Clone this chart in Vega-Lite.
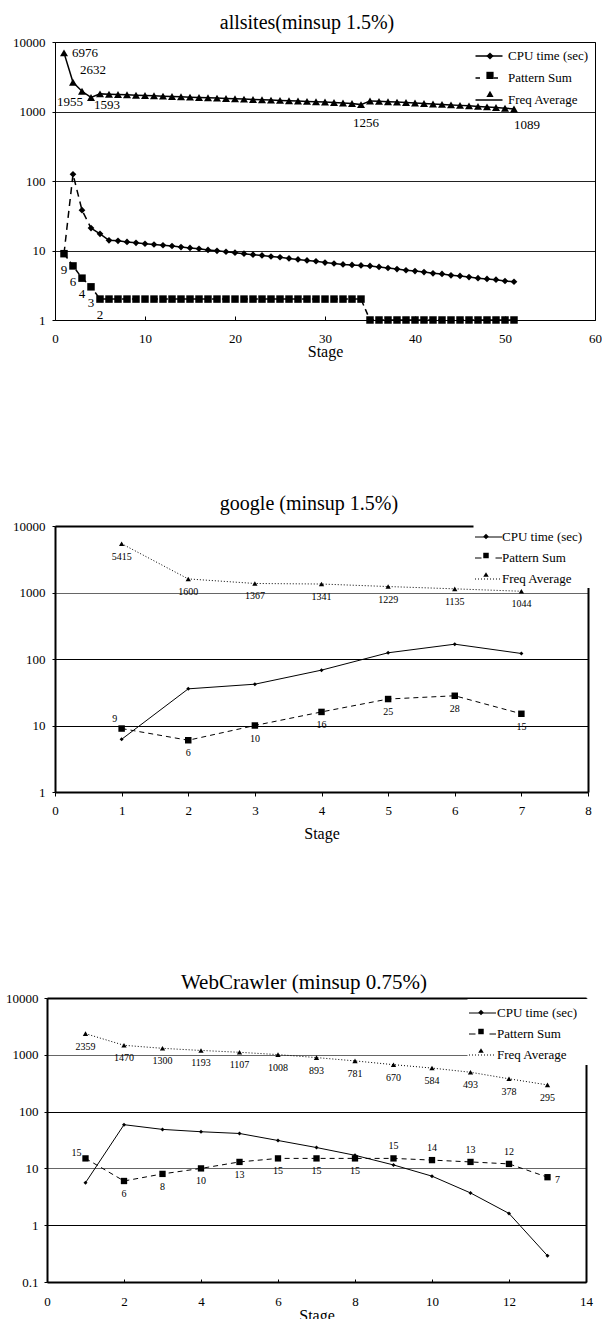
{
  "$schema": "https://vega.github.io/schema/vega-lite/v6.json",
  "autosize": {"type": "pad"},
  "padding": {"left": 5, "top": 13, "right": 0, "bottom": 0},
  "background": "white",
  "config": {
    "font": "Liberation Serif",
    "view": {"stroke": null},
    "axis": {"labelFont": "Liberation Serif", "titleFont": "Liberation Serif", "labelColor": "black", "titleColor": "black", "tickColor": "black", "domainColor": "black"},
    "legend": {"labelFont": "Liberation Serif", "labelColor": "black"},
    "title": {"font": "Liberation Serif", "fontWeight": "normal", "color": "black", "anchor": "middle", "frame": "group", "baseline": "alphabetic"},
    "text": {"font": "Liberation Serif", "color": "black"}
  },
  "datasets": {
    "a": [
      {"s":1,"cpu":9,"pat":9,"freq":6976},
      {"s":2,"cpu":125,"pat":6,"freq":2632},
      {"s":3,"cpu":38,"pat":4,"freq":1955},
      {"s":4,"cpu":21,"pat":3,"freq":1593},
      {"s":5,"cpu":17.4,"pat":2,"freq":1793},
      {"s":6,"cpu":14,"pat":2,"freq":1775},
      {"s":7,"cpu":13.8,"pat":2,"freq":1756},
      {"s":8,"cpu":13.3,"pat":2,"freq":1737},
      {"s":9,"cpu":12.9,"pat":2,"freq":1718},
      {"s":10,"cpu":12.5,"pat":2,"freq":1700},
      {"s":11,"cpu":12.2,"pat":2,"freq":1681},
      {"s":12,"cpu":11.9,"pat":2,"freq":1663},
      {"s":13,"cpu":11.6,"pat":2,"freq":1645},
      {"s":14,"cpu":11.2,"pat":2,"freq":1627},
      {"s":15,"cpu":10.9,"pat":2,"freq":1610},
      {"s":16,"cpu":10.6,"pat":2,"freq":1592},
      {"s":17,"cpu":10.2,"pat":2,"freq":1575},
      {"s":18,"cpu":9.9,"pat":2,"freq":1558},
      {"s":19,"cpu":9.6,"pat":2,"freq":1541},
      {"s":20,"cpu":9.3,"pat":2,"freq":1524},
      {"s":21,"cpu":9.0,"pat":2,"freq":1508},
      {"s":22,"cpu":8.7,"pat":2,"freq":1491},
      {"s":23,"cpu":8.5,"pat":2,"freq":1475},
      {"s":24,"cpu":8.2,"pat":2,"freq":1459},
      {"s":25,"cpu":8.0,"pat":2,"freq":1444},
      {"s":26,"cpu":7.7,"pat":2,"freq":1428},
      {"s":27,"cpu":7.45,"pat":2,"freq":1413},
      {"s":28,"cpu":7.2,"pat":2,"freq":1397},
      {"s":29,"cpu":7.0,"pat":2,"freq":1382},
      {"s":30,"cpu":6.7,"pat":2,"freq":1367},
      {"s":31,"cpu":6.5,"pat":2,"freq":1350},
      {"s":32,"cpu":6.3,"pat":2,"freq":1328},
      {"s":33,"cpu":6.2,"pat":2,"freq":1300},
      {"s":34,"cpu":6.1,"pat":2,"freq":1256},
      {"s":35,"cpu":6.0,"pat":1,"freq":1420},
      {"s":36,"cpu":5.8,"pat":1,"freq":1400},
      {"s":37,"cpu":5.6,"pat":1,"freq":1385},
      {"s":38,"cpu":5.4,"pat":1,"freq":1365},
      {"s":39,"cpu":5.2,"pat":1,"freq":1345},
      {"s":40,"cpu":5.06,"pat":1,"freq":1325},
      {"s":41,"cpu":4.9,"pat":1,"freq":1305},
      {"s":42,"cpu":4.7,"pat":1,"freq":1285},
      {"s":43,"cpu":4.6,"pat":1,"freq":1265},
      {"s":44,"cpu":4.4,"pat":1,"freq":1245},
      {"s":45,"cpu":4.3,"pat":1,"freq":1225},
      {"s":46,"cpu":4.15,"pat":1,"freq":1205},
      {"s":47,"cpu":4.0,"pat":1,"freq":1185},
      {"s":48,"cpu":3.9,"pat":1,"freq":1165},
      {"s":49,"cpu":3.8,"pat":1,"freq":1140},
      {"s":50,"cpu":3.64,"pat":1,"freq":1115},
      {"s":51,"cpu":3.55,"pat":1,"freq":1089}
    ],
    "g": [
      {"s":1,"cpu":6.2,"pat":9,"freq":5415},
      {"s":2,"cpu":35.6,"pat":6,"freq":1600},
      {"s":3,"cpu":41.8,"pat":10,"freq":1367},
      {"s":4,"cpu":68,"pat":16,"freq":1341},
      {"s":5,"cpu":124,"pat":25,"freq":1229},
      {"s":6,"cpu":167,"pat":28,"freq":1135},
      {"s":7,"cpu":121,"pat":15,"freq":1044}
    ],
    "w": [
      {"s":1,"cpu":5.6,"pat":15,"freq":2359},
      {"s":2,"cpu":58.8,"pat":6,"freq":1470},
      {"s":3,"cpu":48.6,"pat":8,"freq":1300},
      {"s":4,"cpu":44.2,"pat":10,"freq":1193},
      {"s":5,"cpu":41.2,"pat":13,"freq":1107},
      {"s":6,"cpu":31,"pat":15,"freq":1008},
      {"s":7,"cpu":23.3,"pat":15,"freq":893},
      {"s":8,"cpu":17,"pat":15,"freq":781},
      {"s":9,"cpu":11.5,"pat":15,"freq":670},
      {"s":10,"cpu":7.3,"pat":14,"freq":584},
      {"s":11,"cpu":3.7,"pat":13,"freq":493},
      {"s":12,"cpu":1.61,"pat":12,"freq":378},
      {"s":13,"cpu":0.29,"pat":7,"freq":295}
    ]
  },
  "bounds": "flush",
  "spacing": 206,
  "resolve": {"scale": {"x": "independent", "y": "independent", "shape": "independent", "strokeDash": "independent"}, "legend": {"shape": "independent", "strokeDash": "independent"}},
  "vconcat": [
    {
      "width": 548,
      "height": 278,
      "data": {"name": "a"},
      "title": {"text": "allsites(minsup 1.5%)", "font": "Liberation Serif", "fontWeight": "normal", "fontSize": 20, "offset": 3, "dx": -14},
      "resolve": {"axis": {"x": "independent", "y": "independent"}},
      "layer": [
        {
          "mark": {"type": "line", "color": "black", "strokeWidth": 1.5},
          "encoding": {
            "x": {"field": "s", "type": "quantitative", "scale": {"domain": [0, 60], "range": [8, 548], "nice": false, "zero": false},
                  "axis": {"orient": "bottom", "values": [0,10,20,30,40,50,60], "tickSize": -4, "labelPadding": 16, "labelFont": "Liberation Serif", "labelFontSize": 13, "labelFlush": false, "labelOverlap": false, "domainWidth": 1, "grid": false, "title": "Stage", "titleFont": "Liberation Serif", "titleFontSize": 16, "titleFontWeight": "normal", "titleY": 31, "titleBaseline": "middle"}},
            "y": {"field": "freq", "type": "quantitative", "scale": {"type": "log", "domain": [1, 10000], "nice": false},
                  "axis": {"orient": "left", "values": [1,10,100,1000,10000], "labelExpr": "'' + datum.value", "offset": -8, "tickSize": 3, "labelPadding": 7, "labelFont": "Liberation Serif", "labelFontSize": 13, "labelOverlap": false, "domainWidth": 1, "grid": true, "gridColor": "#222", "gridWidth": 1, "title": null}}
          }
        },
        {
          "transform": [{"filter": "datum.s <= 4"}],
          "mark": {"type": "line", "color": "black", "strokeWidth": 1.5, "strokeDash": [7, 5]},
          "encoding": {
            "x": {"field": "s", "type": "quantitative", "scale": {"domain": [0, 60], "range": [8, 548], "nice": false, "zero": false},
                  "axis": {"orient": "top", "labels": false, "ticks": false, "grid": false, "title": null, "domainWidth": 1}},
            "y": {"field": "cpu", "type": "quantitative", "scale": {"type": "log", "domain": [1, 10000], "nice": false},
                  "axis": {"orient": "right", "labels": false, "ticks": false, "grid": false, "title": null, "domainWidth": 1}}
          }
        },
        {
          "transform": [{"filter": "datum.s >= 4"}],
          "mark": {"type": "line", "color": "black", "strokeWidth": 1.5},
          "encoding": {"x": {"field": "s", "type": "quantitative", "axis": null}, "y": {"field": "cpu", "type": "quantitative", "axis": null}}
        },
        {
          "mark": {"type": "line", "color": "black", "strokeWidth": 1.5, "strokeDash": [6, 4]},
          "encoding": {"x": {"field": "s", "type": "quantitative", "axis": null}, "y": {"field": "pat", "type": "quantitative", "axis": null}}
        },
        {
          "transform": [{"filter": "datum.s >= 2"}],
          "mark": {"type": "point", "shape": "diamond", "filled": true, "size": 45, "color": "black", "opacity": 1},
          "encoding": {"x": {"field": "s", "type": "quantitative", "axis": null}, "y": {"field": "cpu", "type": "quantitative", "axis": null}}
        },
        {
          "mark": {"type": "point", "shape": "square", "filled": true, "size": 56, "color": "black", "opacity": 1},
          "encoding": {"x": {"field": "s", "type": "quantitative", "axis": null}, "y": {"field": "pat", "type": "quantitative", "axis": null}}
        },
        {
          "mark": {"type": "point", "shape": "triangle-up", "filled": true, "size": 64, "color": "black", "opacity": 1},
          "encoding": {"x": {"field": "s", "type": "quantitative", "axis": null}, "y": {"field": "freq", "type": "quantitative", "axis": null}}
        },
        {
          "transform": [{"filter": "datum.s == 1"}],
          "mark": {"type": "text", "font": "Liberation Serif", "fontSize": 13, "align": "left", "baseline": "middle", "dx": 8, "dy": 0},
          "encoding": {"x": {"field": "s", "type": "quantitative", "axis": null}, "y": {"field": "freq", "type": "quantitative", "axis": null}, "text": {"field": "freq"}}
        },
        {
          "transform": [{"filter": "datum.s == 2"}],
          "mark": {"type": "text", "font": "Liberation Serif", "fontSize": 13, "align": "left", "baseline": "middle", "dx": 7, "dy": -12},
          "encoding": {"x": {"field": "s", "type": "quantitative", "axis": null}, "y": {"field": "freq", "type": "quantitative", "axis": null}, "text": {"field": "freq"}}
        },
        {
          "transform": [{"filter": "datum.s == 3"}],
          "mark": {"type": "text", "font": "Liberation Serif", "fontSize": 13, "align": "center", "baseline": "middle", "dx": -12, "dy": 11},
          "encoding": {"x": {"field": "s", "type": "quantitative", "axis": null}, "y": {"field": "freq", "type": "quantitative", "axis": null}, "text": {"field": "freq"}}
        },
        {
          "transform": [{"filter": "datum.s == 4"}],
          "mark": {"type": "text", "font": "Liberation Serif", "fontSize": 13, "align": "left", "baseline": "middle", "dx": 3, "dy": 8},
          "encoding": {"x": {"field": "s", "type": "quantitative", "axis": null}, "y": {"field": "freq", "type": "quantitative", "axis": null}, "text": {"field": "freq"}}
        },
        {
          "transform": [{"filter": "datum.s == 34"}],
          "mark": {"type": "text", "font": "Liberation Serif", "fontSize": 13, "align": "center", "baseline": "middle", "dx": 5, "dy": 18},
          "encoding": {"x": {"field": "s", "type": "quantitative", "axis": null}, "y": {"field": "freq", "type": "quantitative", "axis": null}, "text": {"field": "freq"}}
        },
        {
          "transform": [{"filter": "datum.s == 51"}],
          "mark": {"type": "text", "font": "Liberation Serif", "fontSize": 13, "align": "center", "baseline": "middle", "dx": 13, "dy": 16},
          "encoding": {"x": {"field": "s", "type": "quantitative", "axis": null}, "y": {"field": "freq", "type": "quantitative", "axis": null}, "text": {"field": "freq"}}
        },
        {
          "transform": [{"filter": "datum.s <= 5"}],
          "mark": {"type": "text", "font": "Liberation Serif", "fontSize": 13, "align": "center", "baseline": "middle", "dx": 0, "dy": 16},
          "encoding": {"x": {"field": "s", "type": "quantitative", "axis": null}, "y": {"field": "pat", "type": "quantitative", "axis": null}, "text": {"field": "pat"}}
        },
        {
          "transform": [{"fold": ["cpu", "pat", "freq"], "as": ["series", "v"]}, {"filter": "datum.s < 0"}],
          "mark": {"type": "point", "filled": true, "color": "black", "opacity": 1},
          "encoding": {
            "x": {"field": "s", "type": "quantitative", "axis": null},
            "y": {"field": "v", "type": "quantitative", "axis": null},
            "shape": {"field": "series", "type": "nominal",
              "scale": {"domain": ["cpu", "pat", "freq"], "range": ["diamond", "square", "triangle-up"]},
              "legend": {"title": null, "orient": "none", "legendX": 436.5, "legendY": 7.5, "padding": 0, "zindex": 1, "symbolSize": 52, "symbolFillColor": "black", "symbolOpacity": 1, "labelFont": "Liberation Serif", "labelFontSize": 13, "labelOffset": 10.5, "rowPadding": 4.4,
                "labelExpr": "''"}}
          }
        },
        {
          "transform": [{"fold": ["cpu", "pat", "freq"], "as": ["line", "v2"]}, {"filter": "datum.s < 0"}],
          "mark": {"type": "line", "color": "black", "strokeWidth": 1.5},
          "encoding": {
            "x": {"field": "s", "type": "quantitative", "axis": null},
            "y": {"field": "v2", "type": "quantitative", "axis": null},
            "strokeDash": {"field": "line", "type": "nominal",
              "scale": {"domain": ["CPU time (sec)", "Pattern Sum", "Freq Average"], "range": [[1, 0], [4.5, 13.5], [1, 0]]},
              "legend": {"title": null, "orient": "none", "legendX": 427.5, "legendY": -0.5, "padding": 0, "zindex": 2, "symbolType": "stroke", "symbolSize": 729, "symbolStrokeWidth": 1.5, "symbolStrokeColor": "black", "labelFont": "Liberation Serif", "labelFontSize": 13, "labelOffset": 4.5, "rowPadding": -13.5}}
          }
        }
      ]
    },
    {
      "width": 541,
      "height": 266,
      "data": {"name": "g"},
      "title": {"text": "google (minsup 1.5%)", "font": "Liberation Serif", "fontWeight": "normal", "fontSize": 20, "offset": 6, "dx": -8.5},
      "resolve": {"axis": {"x": "independent", "y": "independent"}},
      "layer": [
        {
          "mark": {"type": "line", "color": "black", "strokeWidth": 1, "strokeDash": [1, 2]},
          "encoding": {
            "x": {"field": "s", "type": "quantitative", "scale": {"domain": [0, 8], "range": [8, 541], "nice": false, "zero": false},
                  "axis": {"orient": "bottom", "values": [0,1,2,3,4,5,6,7,8], "tickSize": 4, "labelPadding": 8, "labelFont": "Liberation Serif", "labelFontSize": 13, "labelFlush": false, "labelOverlap": false, "domainWidth": 2, "grid": false, "title": "Stage", "titleFont": "Liberation Serif", "titleFontSize": 16, "titleFontWeight": "normal", "titleY": 41, "titleBaseline": "middle"}},
            "y": {"field": "freq", "type": "quantitative", "scale": {"type": "log", "domain": [1, 10000], "nice": false},
                  "axis": {"orient": "left", "values": [1,10,100,1000,10000], "labelExpr": "'' + datum.value", "offset": -8, "tickSize": 3, "labelPadding": 7, "labelFont": "Liberation Serif", "labelFontSize": 13, "labelOverlap": false, "domainWidth": 2, "grid": true, "gridColor": {"condition": {"test": "datum.value == 1000", "value": "#666"}, "value": "#000"}, "gridWidth": 1, "title": null}}
          }
        },
        {
          "mark": {"type": "line", "color": "black", "strokeWidth": 1},
          "encoding": {
            "x": {"field": "s", "type": "quantitative", "scale": {"domain": [0, 8], "range": [8, 541], "nice": false, "zero": false},
                  "axis": {"orient": "top", "labels": false, "ticks": false, "grid": false, "title": null, "domainWidth": 2}},
            "y": {"field": "cpu", "type": "quantitative", "scale": {"type": "log", "domain": [1, 10000], "nice": false},
                  "axis": {"orient": "right", "labels": false, "ticks": false, "grid": false, "title": null, "domainWidth": 2}}
          }
        },
        {
          "mark": {"type": "line", "color": "black", "strokeWidth": 1, "strokeDash": [5, 4]},
          "encoding": {"x": {"field": "s", "type": "quantitative", "axis": null}, "y": {"field": "pat", "type": "quantitative", "axis": null}}
        },
        {
          "mark": {"type": "point", "shape": "diamond", "filled": true, "size": 16, "color": "black", "opacity": 1},
          "encoding": {"x": {"field": "s", "type": "quantitative", "axis": null}, "y": {"field": "cpu", "type": "quantitative", "axis": null}}
        },
        {
          "mark": {"type": "point", "shape": "square", "filled": true, "size": 42, "color": "black", "opacity": 1},
          "encoding": {"x": {"field": "s", "type": "quantitative", "axis": null}, "y": {"field": "pat", "type": "quantitative", "axis": null}}
        },
        {
          "mark": {"type": "point", "shape": "triangle-up", "filled": true, "size": 28, "color": "black", "opacity": 1},
          "encoding": {"x": {"field": "s", "type": "quantitative", "axis": null}, "y": {"field": "freq", "type": "quantitative", "axis": null}}
        },
        {
          "mark": {"type": "text", "font": "Liberation Serif", "fontSize": 10, "align": "center", "baseline": "middle", "dy": 13},
          "encoding": {"x": {"field": "s", "type": "quantitative", "axis": null}, "y": {"field": "freq", "type": "quantitative", "axis": null}, "text": {"field": "freq"}}
        },
        {
          "transform": [{"filter": "datum.s == 1"}],
          "mark": {"type": "text", "font": "Liberation Serif", "fontSize": 10, "align": "center", "baseline": "middle", "dx": -7, "dy": -10},
          "encoding": {"x": {"field": "s", "type": "quantitative", "axis": null}, "y": {"field": "pat", "type": "quantitative", "axis": null}, "text": {"field": "pat"}}
        },
        {
          "transform": [{"filter": "datum.s >= 2"}],
          "mark": {"type": "text", "font": "Liberation Serif", "fontSize": 10, "align": "center", "baseline": "middle", "dy": 13},
          "encoding": {"x": {"field": "s", "type": "quantitative", "axis": null}, "y": {"field": "pat", "type": "quantitative", "axis": null}, "text": {"field": "pat"}}
        },
        {
          "transform": [{"fold": ["cpu", "pat", "freq"], "as": ["series", "v"]}, {"filter": "datum.s < 0"}],
          "mark": {"type": "point", "filled": true, "color": "black", "opacity": 1},
          "encoding": {
            "x": {"field": "s", "type": "quantitative", "axis": null},
            "y": {"field": "v", "type": "quantitative", "axis": null},
            "shape": {"field": "series", "type": "nominal",
              "scale": {"domain": ["cpu", "pat", "freq"], "range": ["diamond", "square", "triangle-up"]},
              "legend": {"title": null, "orient": "none", "legendX": 426.5, "legendY": -2, "padding": 6, "fillColor": "white", "zindex": 1, "symbolSize": 30, "symbolFillColor": "black", "symbolOpacity": 1, "labelFont": "Liberation Serif", "labelFontSize": 13, "labelOffset": 96, "rowPadding": 5,
                "labelExpr": "''"}}
          }
        },
        {
          "transform": [{"fold": ["cpu", "pat", "freq"], "as": ["line", "v2"]}, {"filter": "datum.s < 0"}],
          "mark": {"type": "line", "color": "black", "strokeWidth": 1},
          "encoding": {
            "x": {"field": "s", "type": "quantitative", "axis": null},
            "y": {"field": "v2", "type": "quantitative", "axis": null},
            "strokeDash": {"field": "line", "type": "nominal",
              "scale": {"domain": ["CPU time (sec)", "Pattern Sum", "Freq Average"], "range": [[1, 0], [6.5, 14], [1, 2]]},
              "legend": {"title": null, "orient": "none", "legendX": 427.5, "legendY": -3, "padding": 0, "zindex": 2, "symbolType": "stroke", "symbolSize": 729, "symbolStrokeWidth": 1, "symbolStrokeColor": "black", "labelFont": "Liberation Serif", "labelFontSize": 13, "labelOffset": -0.5, "rowPadding": -11}}
          }
        }
      ]
    },
    {
      "width": 539,
      "height": 284,
      "data": {"name": "w"},
      "title": {"text": "WebCrawler (minsup 0.75%)", "font": "Liberation Serif", "fontWeight": "normal", "fontSize": 21, "offset": -1, "dx": -12.5},
      "resolve": {"axis": {"x": "independent", "y": "independent"}},
      "layer": [
        {
          "mark": {"type": "line", "color": "black", "strokeWidth": 1, "strokeDash": [1, 2]},
          "encoding": {
            "x": {"field": "s", "type": "quantitative", "scale": {"domain": [0, 14], "nice": false, "zero": false},
                  "axis": {"orient": "bottom", "values": [0,2,4,6,8,10,12,14], "tickSize": -3, "labelPadding": 16, "labelFont": "Liberation Serif", "labelFontSize": 13, "labelFlush": false, "labelOverlap": false, "domainWidth": 2, "grid": false, "title": "Stage", "titleFont": "Liberation Serif", "titleFontSize": 16, "titleFontWeight": "normal", "titleY": 33, "titleBaseline": "middle"}},
            "y": {"field": "freq", "type": "quantitative", "scale": {"type": "log", "domain": [0.1, 10000], "nice": false},
                  "axis": {"orient": "left", "values": [0.1,1,10,100,1000,10000], "labelExpr": "'' + datum.value", "tickSize": 3, "labelPadding": 6, "labelFont": "Liberation Serif", "labelFontSize": 13, "labelOverlap": false, "domainWidth": 2, "grid": true, "gridColor": {"condition": {"test": "datum.value == 1000 || datum.value == 10", "value": "#666"}, "value": "#000"}, "gridWidth": 1, "title": null}}
          }
        },
        {
          "mark": {"type": "line", "color": "black", "strokeWidth": 1},
          "encoding": {
            "x": {"field": "s", "type": "quantitative", "scale": {"domain": [0, 14], "nice": false, "zero": false},
                  "axis": {"orient": "top", "labels": false, "ticks": false, "grid": false, "title": null, "domainWidth": 2}},
            "y": {"field": "cpu", "type": "quantitative", "scale": {"type": "log", "domain": [0.1, 10000], "nice": false},
                  "axis": {"orient": "right", "labels": false, "ticks": false, "grid": false, "title": null, "domainWidth": 2}}
          }
        },
        {
          "mark": {"type": "line", "color": "black", "strokeWidth": 1, "strokeDash": [5, 4]},
          "encoding": {"x": {"field": "s", "type": "quantitative", "axis": null}, "y": {"field": "pat", "type": "quantitative", "axis": null}}
        },
        {
          "mark": {"type": "point", "shape": "diamond", "filled": true, "size": 16, "color": "black", "opacity": 1},
          "encoding": {"x": {"field": "s", "type": "quantitative", "axis": null}, "y": {"field": "cpu", "type": "quantitative", "axis": null}}
        },
        {
          "mark": {"type": "point", "shape": "square", "filled": true, "size": 40, "color": "black", "opacity": 1},
          "encoding": {"x": {"field": "s", "type": "quantitative", "axis": null}, "y": {"field": "pat", "type": "quantitative", "axis": null}}
        },
        {
          "mark": {"type": "point", "shape": "triangle-up", "filled": true, "size": 28, "color": "black", "opacity": 1},
          "encoding": {"x": {"field": "s", "type": "quantitative", "axis": null}, "y": {"field": "freq", "type": "quantitative", "axis": null}}
        },
        {
          "mark": {"type": "text", "font": "Liberation Serif", "fontSize": 10, "align": "center", "baseline": "middle", "dy": 13},
          "encoding": {"x": {"field": "s", "type": "quantitative", "axis": null}, "y": {"field": "freq", "type": "quantitative", "axis": null}, "text": {"field": "freq"}}
        },
        {
          "transform": [{"filter": "datum.s == 1"}],
          "mark": {"type": "text", "font": "Liberation Serif", "fontSize": 10, "align": "center", "baseline": "middle", "dx": -9, "dy": -5},
          "encoding": {"x": {"field": "s", "type": "quantitative", "axis": null}, "y": {"field": "pat", "type": "quantitative", "axis": null}, "text": {"field": "pat"}}
        },
        {
          "transform": [{"filter": "datum.s >= 2 && datum.s <= 8"}],
          "mark": {"type": "text", "font": "Liberation Serif", "fontSize": 10, "align": "center", "baseline": "middle", "dy": 13},
          "encoding": {"x": {"field": "s", "type": "quantitative", "axis": null}, "y": {"field": "pat", "type": "quantitative", "axis": null}, "text": {"field": "pat"}}
        },
        {
          "transform": [{"filter": "datum.s >= 9 && datum.s <= 12"}],
          "mark": {"type": "text", "font": "Liberation Serif", "fontSize": 10, "align": "center", "baseline": "middle", "dy": -12},
          "encoding": {"x": {"field": "s", "type": "quantitative", "axis": null}, "y": {"field": "pat", "type": "quantitative", "axis": null}, "text": {"field": "pat"}}
        },
        {
          "transform": [{"filter": "datum.s == 13"}],
          "mark": {"type": "text", "font": "Liberation Serif", "fontSize": 10, "align": "center", "baseline": "middle", "dx": 10, "dy": 3},
          "encoding": {"x": {"field": "s", "type": "quantitative", "axis": null}, "y": {"field": "pat", "type": "quantitative", "axis": null}, "text": {"field": "pat"}}
        },
        {
          "transform": [{"fold": ["cpu", "pat", "freq"], "as": ["series", "v"]}, {"filter": "datum.s < 0"}],
          "mark": {"type": "point", "filled": true, "color": "black", "opacity": 1},
          "encoding": {
            "x": {"field": "s", "type": "quantitative", "axis": null},
            "y": {"field": "v", "type": "quantitative", "axis": null},
            "shape": {"field": "series", "type": "nominal",
              "scale": {"domain": ["cpu", "pat", "freq"], "range": ["diamond", "square", "triangle-up"]},
              "legend": {"title": null, "orient": "none", "legendX": 420.5, "legendY": 1, "padding": 7, "fillColor": "white", "zindex": 1, "symbolSize": 30, "symbolFillColor": "black", "symbolOpacity": 1, "labelFont": "Liberation Serif", "labelFontSize": 13, "labelOffset": 99, "rowPadding": 5,
                "labelExpr": "''"}}
          }
        },
        {
          "transform": [{"fold": ["cpu", "pat", "freq"], "as": ["line", "v2"]}, {"filter": "datum.s < 0"}],
          "mark": {"type": "line", "color": "black", "strokeWidth": 1},
          "encoding": {
            "x": {"field": "s", "type": "quantitative", "axis": null},
            "y": {"field": "v2", "type": "quantitative", "axis": null},
            "strokeDash": {"field": "line", "type": "nominal",
              "scale": {"domain": ["CPU time (sec)", "Pattern Sum", "Freq Average"], "range": [[1, 0], [6.5, 14], [1, 2]]},
              "legend": {"title": null, "orient": "none", "legendX": 421.5, "legendY": 1, "padding": 0, "zindex": 2, "symbolType": "stroke", "symbolSize": 729, "symbolStrokeWidth": 1, "symbolStrokeColor": "black", "labelFont": "Liberation Serif", "labelFontSize": 13, "labelOffset": 0.5, "rowPadding": -11.5}}
          }
        }
      ]
    }
  ]
}
